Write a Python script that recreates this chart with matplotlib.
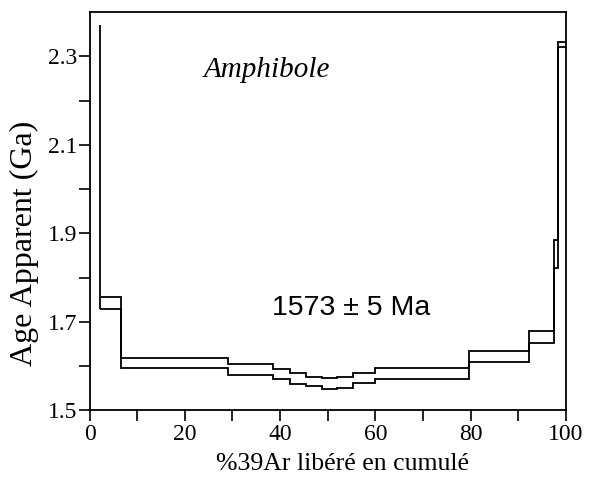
import matplotlib.pyplot as plt

# cumulative %39Ar at the step boundaries and age bounds (Ga) of each step
edges = [2.2, 6.5, 29.0, 38.6, 42.0, 45.4, 48.7, 52.0, 55.4, 60.0, 79.6, 92.2, 97.4, 98.4, 100.0]
age_low = [1.729, 1.595, 1.580, 1.570, 1.560, 1.554, 1.548, 1.551, 1.561, 1.570, 1.608, 1.653, 1.822, 2.322]
age_high = [1.756, 1.618, 1.604, 1.592, 1.583, 1.576, 1.572, 1.575, 1.583, 1.596, 1.634, 1.678, 1.885, 2.332]
first_step_age = 2.37

mineral = "Amphibole"
plateau_label = "1573 ± 5 Ma"

x_ticks = [0, 20, 40, 60, 80, 100]
x_minor = [10, 30, 50, 70, 90]
y_ticks = [1.5, 1.7, 1.9, 2.1, 2.3]
y_minor = [1.6, 1.8, 2.0, 2.2]

plt.rcParams['font.family'] = 'Liberation Serif'

fig = plt.figure(figsize=(5.97, 4.86), dpi=100)
ax = fig.add_axes([0.150, 0.156, 0.798, 0.819])

# upper and lower outlines of the age spectrum
ax.stairs(age_high, edges, baseline=None, color='black', lw=1.3)
ax.stairs(age_low, edges, baseline=None, color='black', lw=1.3)
ax.vlines(edges[0], age_low[0], first_step_age, color='black', lw=1.3)

ax.set_xlim(0, 100)
ax.set_ylim(1.5, 2.40)
ax.set_xticks(x_ticks)
ax.set_xticks(x_minor, minor=True)
ax.set_yticks(y_ticks)
ax.set_yticks(y_minor, minor=True)
ax.tick_params(which='both', direction='out', length=8, width=1.2,
               labelsize=17, color='black')
ax.tick_params(axis='x', pad=2)
ax.tick_params(axis='y', pad=1)
for s in ax.spines.values():
    s.set_linewidth(1.3)

ax.text(24, 2.27, mineral, fontstyle='italic', fontsize=21, va='center')
ax.text(38.4, 1.731, plateau_label, family='Liberation Sans', fontsize=20.5,
        va='center')

ax.set_xlabel('%39Ar libéré en cumulé', fontsize=18.5)
ax.xaxis.set_label_coords(0.532, -0.108)
ax.set_ylabel('Age Apparent (Ga)', fontsize=23)
ax.yaxis.set_label_coords(-0.107, 0.42)

fig.savefig('out.png', dpi=100)
